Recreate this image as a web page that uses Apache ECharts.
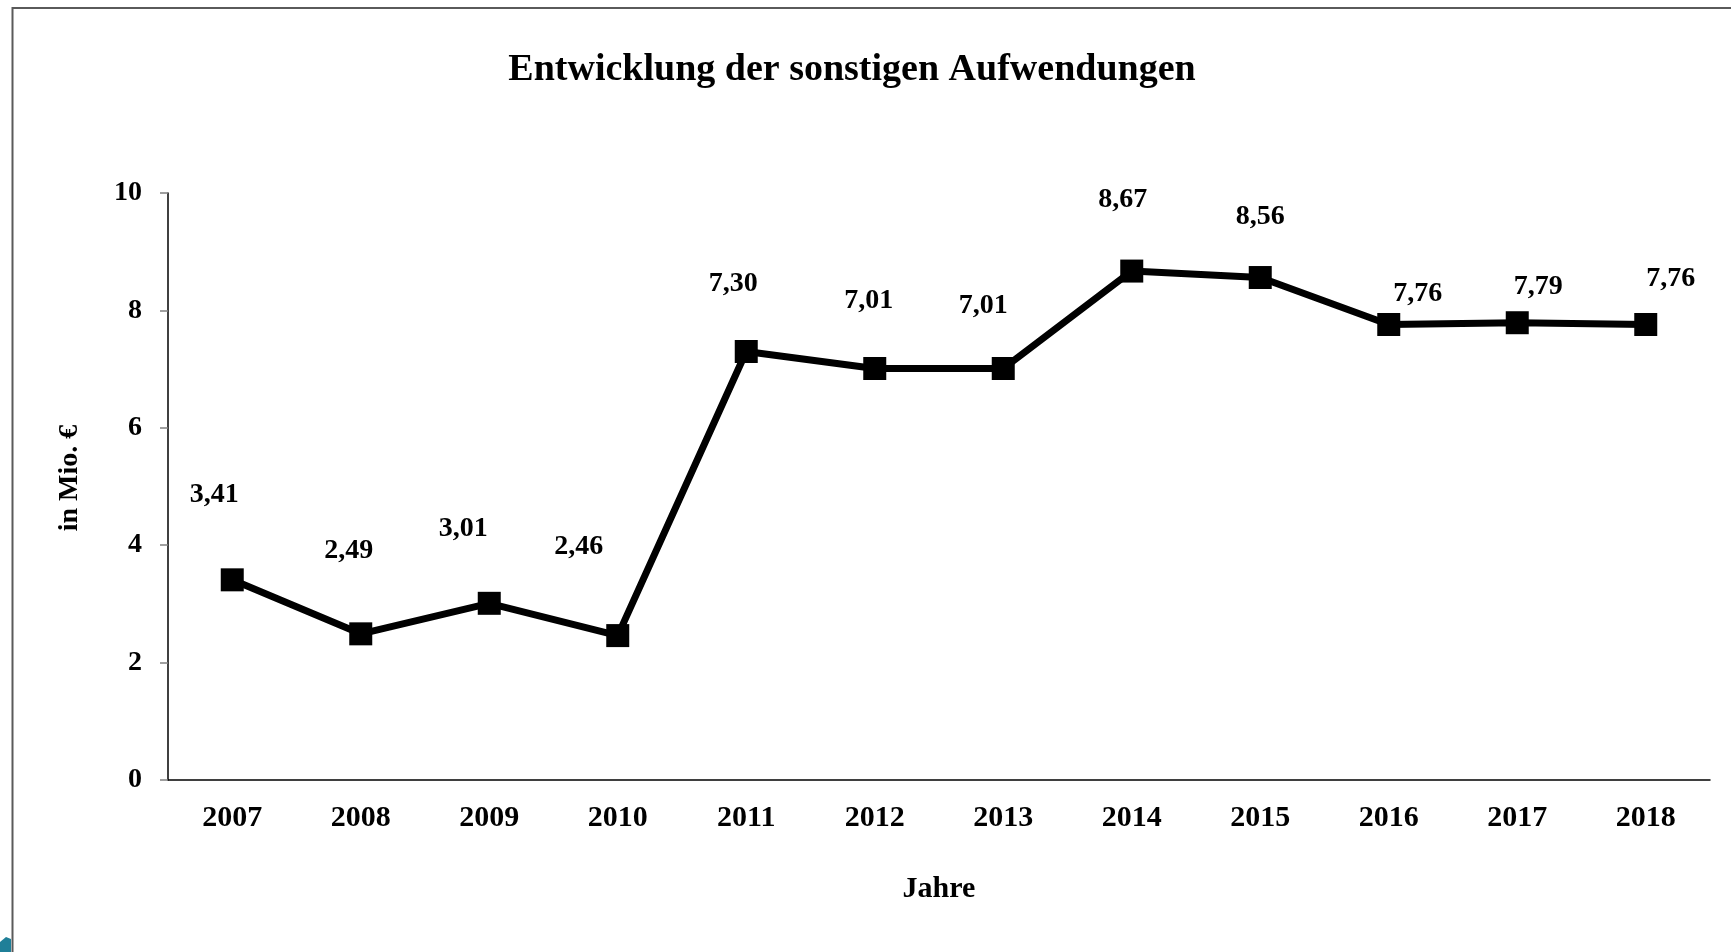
<!DOCTYPE html>
<html>
<head>
<meta charset="utf-8">
<title>Entwicklung der sonstigen Aufwendungen</title>
<script src="https://cdn.jsdelivr.net/npm/echarts@6/dist/echarts.min.js"></script>
<style>
  html, body { margin: 0; padding: 0; background: #fff; }
  #chart { width: 1731px; height: 952px; }
</style>
</head>
<body>
<div id="chart"></div>
<script>
  // Daten
  var jahre = ['2007', '2008', '2009', '2010', '2011', '2012', '2013', '2014', '2015', '2016', '2017', '2018'];
  var aufwendungen = [3.41, 2.49, 3.01, 2.46, 7.30, 7.01, 7.01, 8.67, 8.56, 7.76, 7.79, 7.76];
  var yTicks = [0, 2, 4, 6, 8, 10];

  // Beschriftungen sitzen wie im Original versetzt neben den Punkten
  var labelOffsets = [
    [-18, -85], [-12, -83], [-26, -75], [-39, -89], [-13, -68], [-6, -68],
    [-20, -63], [-9, -71], [0, -61], [29, -31], [21, -36], [25, -46]
  ];

  var font = '"Liberation Serif", "Times New Roman", serif';

  var seriesData = aufwendungen.map(function (v, i) {
    return { value: v, label: { offset: labelOffsets[i] } };
  });

  var chart = echarts.init(document.getElementById('chart'));
  chart.setOption({
    animation: false,
    backgroundColor: '#fff',
    title: {
      text: 'Entwicklung der sonstigen Aufwendungen',
      left: 847,
      top: 46,
      textAlign: 'center',
      textStyle: { fontFamily: font, fontSize: 38, fontWeight: 'bold', color: '#000' }
    },
    grid: { left: 168, right: 21, top: 193, bottom: 172 },
    xAxis: {
      type: 'category',
      data: jahre,
      boundaryGap: true,
      name: 'Jahre',
      nameLocation: 'middle',
      nameGap: 94,
      nameTextStyle: { fontFamily: font, fontSize: 30, fontWeight: 'bold', color: '#000' },
      axisLine: { lineStyle: { color: '#000', width: 1.5 } },
      axisTick: { length: 8, lineStyle: { color: '#808080', width: 1.5 } },
      axisLabel: { margin: 23, fontFamily: font, fontSize: 30, fontWeight: 'bold', color: '#000' }
    },
    yAxis: {
      type: 'value',
      min: yTicks[0],
      max: yTicks[yTicks.length - 1],
      interval: yTicks[1] - yTicks[0],
      name: 'in Mio. €',
      nameLocation: 'middle',
      nameRotate: 90,
      nameGap: 84,
      nameTextStyle: { fontFamily: font, fontSize: 28, fontWeight: 'bold', color: '#000', padding: [0, 0, 0, 17] },
      axisLine: { show: true, lineStyle: { color: '#000', width: 1.5 } },
      axisTick: { show: true, length: 8, lineStyle: { color: '#808080', width: 1.5 } },
      splitLine: { show: false },
      axisLabel: { margin: 26, fontFamily: font, fontSize: 28, fontWeight: 'bold', color: '#000' }
    },
    series: [{
      type: 'line',
      data: seriesData,
      symbol: 'rect',
      symbolSize: 23,
      itemStyle: { color: '#000' },
      lineStyle: { color: '#000', width: 7 },
      label: {
        show: true,
        position: 'inside',
        align: 'center',
        verticalAlign: 'middle',
        fontFamily: font,
        fontSize: 28,
        fontWeight: 'bold',
        color: '#000',
        formatter: function (p) { return p.value.toFixed(2).replace('.', ','); }
      }
    }],
    graphic: [
      // Rahmen oben und links
      {
        type: 'polyline',
        silent: true,
        shape: { points: [[12.5, 952], [12.5, 8], [1731, 8]] },
        style: { stroke: '#5a5a5a', lineWidth: 2, fill: null }
      },
      // Rest eines Logos unten links
      {
        type: 'polygon',
        silent: true,
        shape: { points: [[0, 942], [6, 937], [11, 939], [11, 952], [0, 952]] },
        style: { fill: '#1f7f98' }
      }
    ]
  });
</script>
</body>
</html>
